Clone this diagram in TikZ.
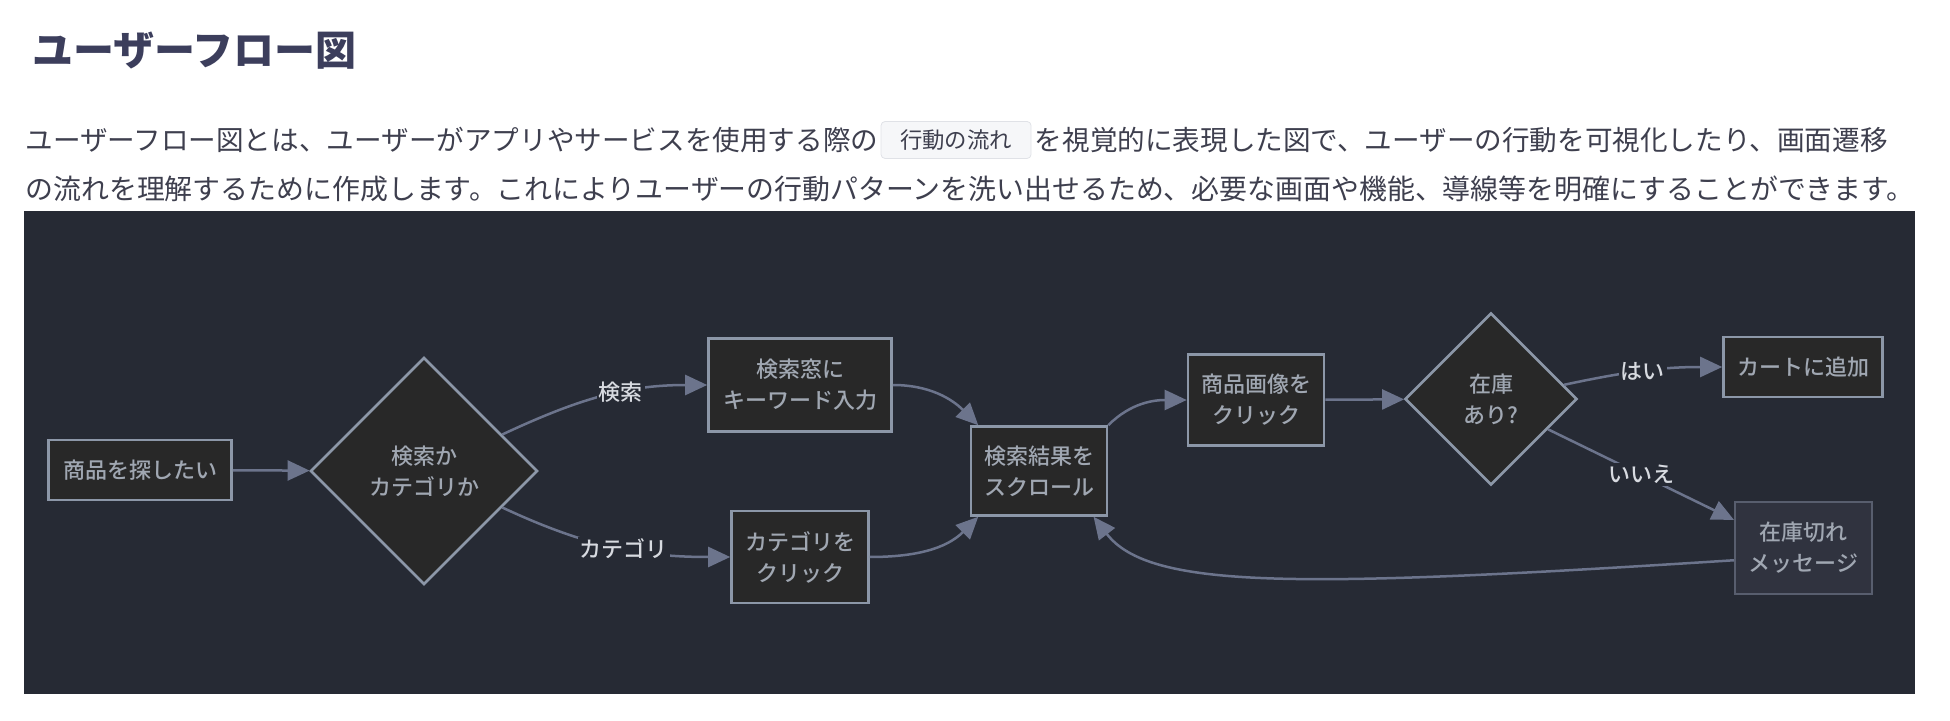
\documentclass[tikz,border=0pt]{standalone}
\usepackage{fontspec}
\setmainfont{Noto Sans CJK JP}
\newfontfamily\medfont{Noto Sans CJK JP Medium}
\usepackage{tikz}
\usetikzlibrary{arrows.meta,positioning,shapes.geometric}
\definecolor{PanelBg}{RGB}{38,42,52}
\definecolor{NodeFill}{RGB}{40,40,40}
\definecolor{NodeLine}{RGB}{140,151,168}
\definecolor{NodeText}{RGB}{160,167,178}
\definecolor{EdgeLine}{RGB}{108,116,140}
\definecolor{LabelText}{RGB}{215,218,224}
\definecolor{AltFill}{RGB}{48,51,63}
\definecolor{AltLine}{RGB}{88,94,110}
\definecolor{TitleText}{RGB}{60,62,92}
\definecolor{BodyText}{RGB}{62,63,78}
\definecolor{CodeFill}{RGB}{246,247,249}
\definecolor{CodeLine}{RGB}{224,226,231}

\begin{document}
\begin{tikzpicture}[x=0.5pt, y=-0.5pt,
  every node/.style={font=\medfont\fontsize{11}{15.5}\selectfont},
  stepbox/.style={draw=NodeLine, line width=1.3pt, fill=NodeFill, text=NodeText, align=center, inner sep=2pt},
  decision/.style={diamond, aspect=1, draw=NodeLine, line width=1.3pt, fill=NodeFill, text=NodeText, align=center, inner sep=0pt},
  endbox/.style={draw=AltLine, line width=1pt, fill=AltFill, text=NodeText, align=center, inner sep=2pt},
  flow/.style={EdgeLine, line width=1.25pt, -{Triangle[length=11pt,width=10pt]}},
  lbl/.style={fill=PanelBg, text=LabelText, inner sep=1pt}]
\useasboundingbox (0,0) rectangle (1950,721);

% heading and text
\node[anchor=west, text=TitleText, font=\fontsize{20.5}{24}\bfseries] (title) at (25,51) {ユーザーフロー図};
\node[anchor=west, text=BodyText, font=\fontsize{13.8}{18}\selectfont, inner sep=0pt] (introA) at (25,140) {ユーザーフロー図とは、ユーザーがアプリやサービスを使用する際の};
\node[right=1pt of introA, draw=CodeLine, fill=CodeFill, rounded corners=2pt, text=BodyText, font=\fontsize{11.2}{14}\selectfont, minimum width=75pt, minimum height=18.5pt] (code) {行動の流れ};
\node[right=1.5pt of code, text=BodyText, font=\fontsize{13.8}{18}\selectfont, inner sep=0pt] (introB) {を視覚的に表現した図で、ユーザーの行動を可視化したり、画面遷移};
\node[anchor=west, text=BodyText, font=\fontsize{13.95}{18}\selectfont, inner sep=0pt] (introC) at (25,189) {の流れを理解するために作成します。これによりユーザーの行動パターンを洗い出せるため、必要な画面や機能、導線等を明確にすることができます。};

% panel
\fill[PanelBg] (24,211) rectangle (1915,694);

% nodes
\node[stepbox, minimum width=91.5pt, minimum height=30pt] (start) at (140,470) {商品を探したい};
\node[decision, minimum width=113.5pt, minimum height=113.5pt] (choice) at (424,471) {検索か\\カテゴリか};
\node[stepbox, minimum width=91.5pt, minimum height=46.5pt] (keyword) at (800,385) {検索窓に\\キーワード入力};
\node[stepbox, minimum width=68.5pt, minimum height=46pt] (category) at (800,557) {カテゴリを\\クリック};
\node[stepbox, minimum width=68pt, minimum height=44.5pt] (results) at (1039,471) {検索結果を\\スクロール};
\node[stepbox, minimum width=68pt, minimum height=45.5pt] (image) at (1256,400) {商品画像を\\クリック};
\node[decision, minimum width=86pt, minimum height=86pt] (stock) at (1491,399) {在庫\\あり?};
\node[stepbox, minimum width=79.5pt, minimum height=30pt] (cart) at (1803,367) {カートに追加};
\node[endbox, minimum width=68.5pt, minimum height=46pt] (soldout) at (1803.5,548) {在庫切れ\\メッセージ};

% connectors
\draw[flow] (start) -- (choice);
\draw[flow] (choice.25) to[out=25, in=180] node[lbl, pos=0.6] {検索} (keyword.west);
\draw[flow] (choice.-25) to[out=-25, in=180] node[lbl, pos=0.55] {カテゴリ} (category.west);
\draw[flow] (keyword.east) to[out=0, in=135] (results.143);
\draw[flow] (category.east) to[out=0, in=-135] (results.-143);
\draw[flow] (results.north east) to[out=45, in=180] (image.west);
\draw[flow] (image) -- (stock);
\draw[flow] (stock.11) to[out=12, in=180] node[lbl, pos=0.5] {はい} (cart.west);
\draw[flow] (stock.-28) -- node[lbl] {いいえ} (soldout.158);
\draw[flow] (soldout.190) .. controls (1300,588) and (1150,590) .. (results.-40);
\end{tikzpicture}
\end{document}
